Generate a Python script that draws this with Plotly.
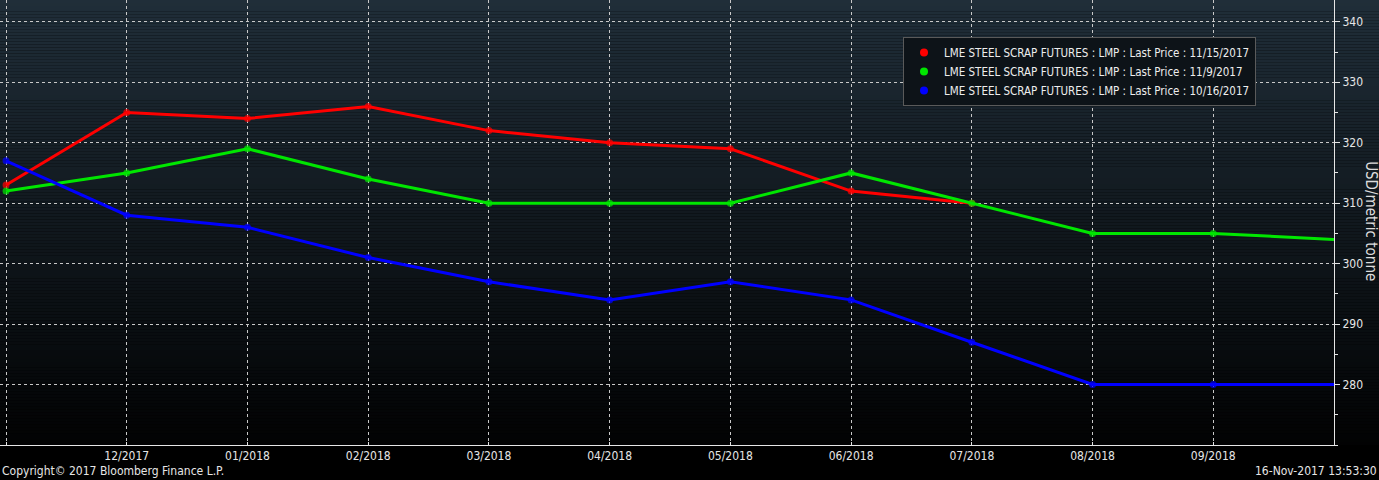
import plotly.graph_objects as go

months = ["11/2017", "12/2017", "01/2018", "02/2018", "03/2018", "04/2018",
          "05/2018", "06/2018", "07/2018", "08/2018", "09/2018", "10/2018"]
tick_labels = ["", "12/2017", "01/2018", "02/2018", "03/2018", "04/2018",
               "05/2018", "06/2018", "07/2018", "08/2018", "09/2018"]

red_1115 = [313, 325, 324, 326, 322, 320, 319, 312, 310]
green_119 = [312, 315, 319, 314, 310, 310, 310, 315, 310, 305, 305, 304]
blue_1016 = [317, 308, 306, 301, 297, 294, 297, 294, 287, 280, 280, 280]

names = ["LME STEEL SCRAP FUTURES : LMP : Last Price : 11/15/2017",
         "LME STEEL SCRAP FUTURES : LMP : Last Price : 11/9/2017",
         "LME STEEL SCRAP FUTURES : LMP : Last Price : 10/16/2017"]
colors = ["#ff0000", "#00e600", "#0000ff"]
series = [red_1115, green_119, blue_1016]

FONT = "DejaVu Sans Condensed, Liberation Sans Narrow, DejaVu Sans, sans-serif"

fig = go.Figure()
for vals, col, nm in zip(series, colors, names):
    xs = list(range(len(vals)))
    sizes = [7] * len(vals)
    if len(vals) == len(months):
        sizes[-1] = 0
    fig.add_trace(go.Scatter(x=xs, y=vals, mode="lines+markers",
                             line=dict(color=col, width=3),
                             marker=dict(color=col, size=sizes, line=dict(width=0)),
                             showlegend=False, hoverinfo="skip"))
for col, nm in zip(colors, names):
    fig.add_trace(go.Scatter(x=[None], y=[None], mode="markers",
                             marker=dict(color=col, size=8, line=dict(width=0)), name=nm))

# vertical gradient background
shapes = []
N = 150
top = (0x20, 0x2e, 0x39)
for i in range(N):
    t0 = i / N
    t1 = (i + 1) / N
    f = 1 - (t0 + t1) / 2  # 1 at top
    c = tuple(int(round(v * (0.05 + 0.95 * f))) for v in top)
    shapes.append(dict(type="rect", xref="paper", yref="paper",
                       x0=-0.01, x1=1.05,
                       y0=1 - t1, y1=1 - t0,
                       fillcolor="rgb(%d,%d,%d)" % c, line=dict(width=0),
                       layer="below"))

fig.update_layout(
    width=1379, height=480,
    margin=dict(l=0, r=45, t=0, b=35, autoexpand=False),
    paper_bgcolor="#000000",
    plot_bgcolor="rgba(0,0,0,0)",
    font=dict(family=FONT, size=12, color="#e6e6e6"),
    shapes=shapes,
    xaxis=dict(range=[-0.05, 11.0], tickmode="array",
               tickvals=list(range(len(tick_labels))), ticktext=tick_labels,
               showgrid=True, gridcolor="#c8c8c8", griddash="dot", gridwidth=1,
               showline=True, linecolor="#e6e6e6", linewidth=1,
               ticks="inside", ticklen=3, tickcolor="#e6e6e6",
               zeroline=False, tickfont=dict(size=12, color="#e6e6e6")),
    yaxis=dict(range=[270, 343.6], side="right", tickvals=[280, 290, 300, 310, 320, 330, 340],
               showgrid=True, gridcolor="#c8c8c8", griddash="dot", gridwidth=1,
               showline=True, linecolor="#e6e6e6", linewidth=1,
               ticks="outside", ticklen=5, tickcolor="#e6e6e6",
               minor=dict(dtick=5, ticks="outside", ticklen=3, tickcolor="#e6e6e6", showgrid=False),
               zeroline=False, tickfont=dict(size=12, color="#e6e6e6")),
    legend=dict(x=903 / 1334, y=1 - 37 / 445, xanchor="left", yanchor="top",
                bgcolor="#0d1318", bordercolor="#5a5a5a", borderwidth=1,
                font=dict(size=11.5, color="#eeeeee"), itemwidth=30,
                tracegroupgap=0),
    annotations=[
        dict(text="USD/metric tonne", textangle=90, xref="paper", yref="paper",
             x=1.0 + 37 / 1334, y=0.503, showarrow=False, xanchor="center", yanchor="middle",
             font=dict(size=15, color="#dcdcdc")),
        dict(text="Copyright© 2017 Bloomberg Finance L.P.", xref="paper", yref="paper",
             x=0.0, y=-35 / 445, xanchor="left", yanchor="bottom", showarrow=False,
             font=dict(size=12, color="#e6e6e6")),
        dict(text="16-Nov-2017 13:53:30", xref="paper", yref="paper",
             x=1379 / 1334, y=-35 / 445, xanchor="right", yanchor="bottom", showarrow=False,
             font=dict(size=12, color="#e6e6e6")),
    ],
)

fig.write_html("out.html", config={"displayModeBar": False},
               post_script="document.body.style.margin='0';document.body.style.background='#000';")
